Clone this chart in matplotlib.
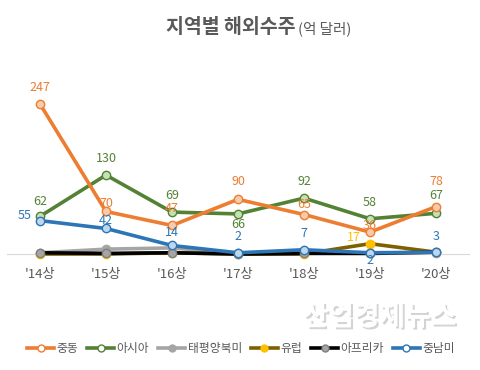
import matplotlib
matplotlib.use("Agg")
import matplotlib.pyplot as plt
from matplotlib.lines import Line2D
import matplotlib.patheffects as pe

plt.rcParams['font.family'] = ['Noto Sans CJK KR', 'DejaVu Sans']

categories = ["'14상", "'15상", "'16상", "'17상", "'18상", "'19상", "'20상"]
middle_east = [247, 70, 47, 90, 65, 36, 78]
asia = [62, 130, 69, 66, 92, 58, 67]
pacific_na = [2, 8, 10, 1, 2, 1, 2]
europe = [0, 0, 2, 0, 0, 17, 3]
africa = [2, 1, 2, 0, 1, 1, 3]
latin_am = [55, 42, 14, 2, 7, 2, 3]

series_names = ["중동", "아시아", "태평양북미", "유럽", "아프리카", "중남미"]

fig = plt.figure(figsize=(4.8, 3.7), dpi=100)
ax = fig.add_axes([7/480, (370-254)/370, (469-7)/480, 270*0.6073/370])
x = list(range(len(categories)))

styles = [
    (middle_east, '#ed7d31', '#f8cbad', '#ed7d31', 'white'),
    (asia, '#548235', '#c5e0b4', '#548235', 'white'),
    (pacific_na, '#a5a5a5', '#a5a5a5', '#a5a5a5', '#a5a5a5'),
    (europe, '#7f6000', '#ffc000', '#ffc000', '#ffc000'),
    (africa, '#000000', '#a5a5a5', '#7f7f7f', '#a5a5a5'),
    (latin_am, '#2e75b6', '#bdd7ee', '#2e75b6', 'white'),
]
handles = []
order_z = [6, 5, 2, 3, 4, 7]
for (vals, lc, fc, ec, lfc), name, z in zip(styles, series_names, order_z):
    ax.plot(x, vals, color=lc, lw=2.6, marker='o', ms=6, mfc=fc, mec=ec,
            mew=1, zorder=z, clip_on=False)
    handles.append(Line2D([0], [0], color=lc, lw=2.6, marker='o', ms=5, mfc=lfc,
                          mec=ec, mew=1, label=name))

# data labels (offsets in points)
def lab(vals, color, offsets):
    for i, (v, off) in enumerate(zip(vals, offsets)):
        if off is None:
            continue
        dx, dy = off
        ax.annotate(str(v), (i, v), xytext=(dx, dy), textcoords='offset points',
                    ha='center', va='center', fontsize=9, color=color, zorder=10)

lab(middle_east, '#ed7d31', [(0, 12), (0, 5.5), (0, 12), (0, 13), (0, 7), (0, 4.5), (0, 18)])
lab(asia, '#548235', [(0, 11), (0, 12), (0, 12), (0, -7.5), (0, 12), (0, 12), (0, 13)])
lab(latin_am, '#2e75b6', [(-11, 3.6), (0, 6), (0, 9), (0, 12), (0, 11.5), (0, -5.5), (0, 11.5)])
lab(europe, '#ffc000', [None, None, None, None, None, (-11.5, 4.3), None])

ax.set_xlim(-0.5, len(categories) - 0.5)
ax.set_ylim(0, 270)
for s in ['top', 'right', 'left']:
    ax.spines[s].set_visible(False)
ax.spines['bottom'].set_color('#d9d9d9')
ax.spines['bottom'].set_linewidth(0.8)
ax.set_yticks([])
ax.set_xticks(x)
ax.set_xticklabels(categories, fontsize=9.5, color='#595959')
ax.tick_params(axis='x', length=0, pad=10)

fig.text(0.616, 0.927, "지역별 해외수주", ha='right', va='center', fontsize=14,
         fontweight='bold', color='#595959')
fig.text(0.621, 0.922, "(억 달러)", ha='left', va='center', fontsize=10.5, color='#595959')

# watermark (embossed look)
fig.text(0.79, 0.143, "산업경제뉴스", ha='center', va='center', fontsize=20,
         color='white', fontweight='bold',
         path_effects=[pe.withSimplePatchShadow(offset=(1.5, -1.5), shadow_rgbFace='#c8c8c8', alpha=0.8),
                       pe.Normal()])

fig.legend(handles=handles, loc='center', bbox_to_anchor=(0.502, 0.057), ncol=6,
           frameon=False, fontsize=8.5, handlelength=2.3, handletextpad=0.2,
           columnspacing=0.75, labelcolor='#595959')

fig.savefig('out.png', dpi=100)
